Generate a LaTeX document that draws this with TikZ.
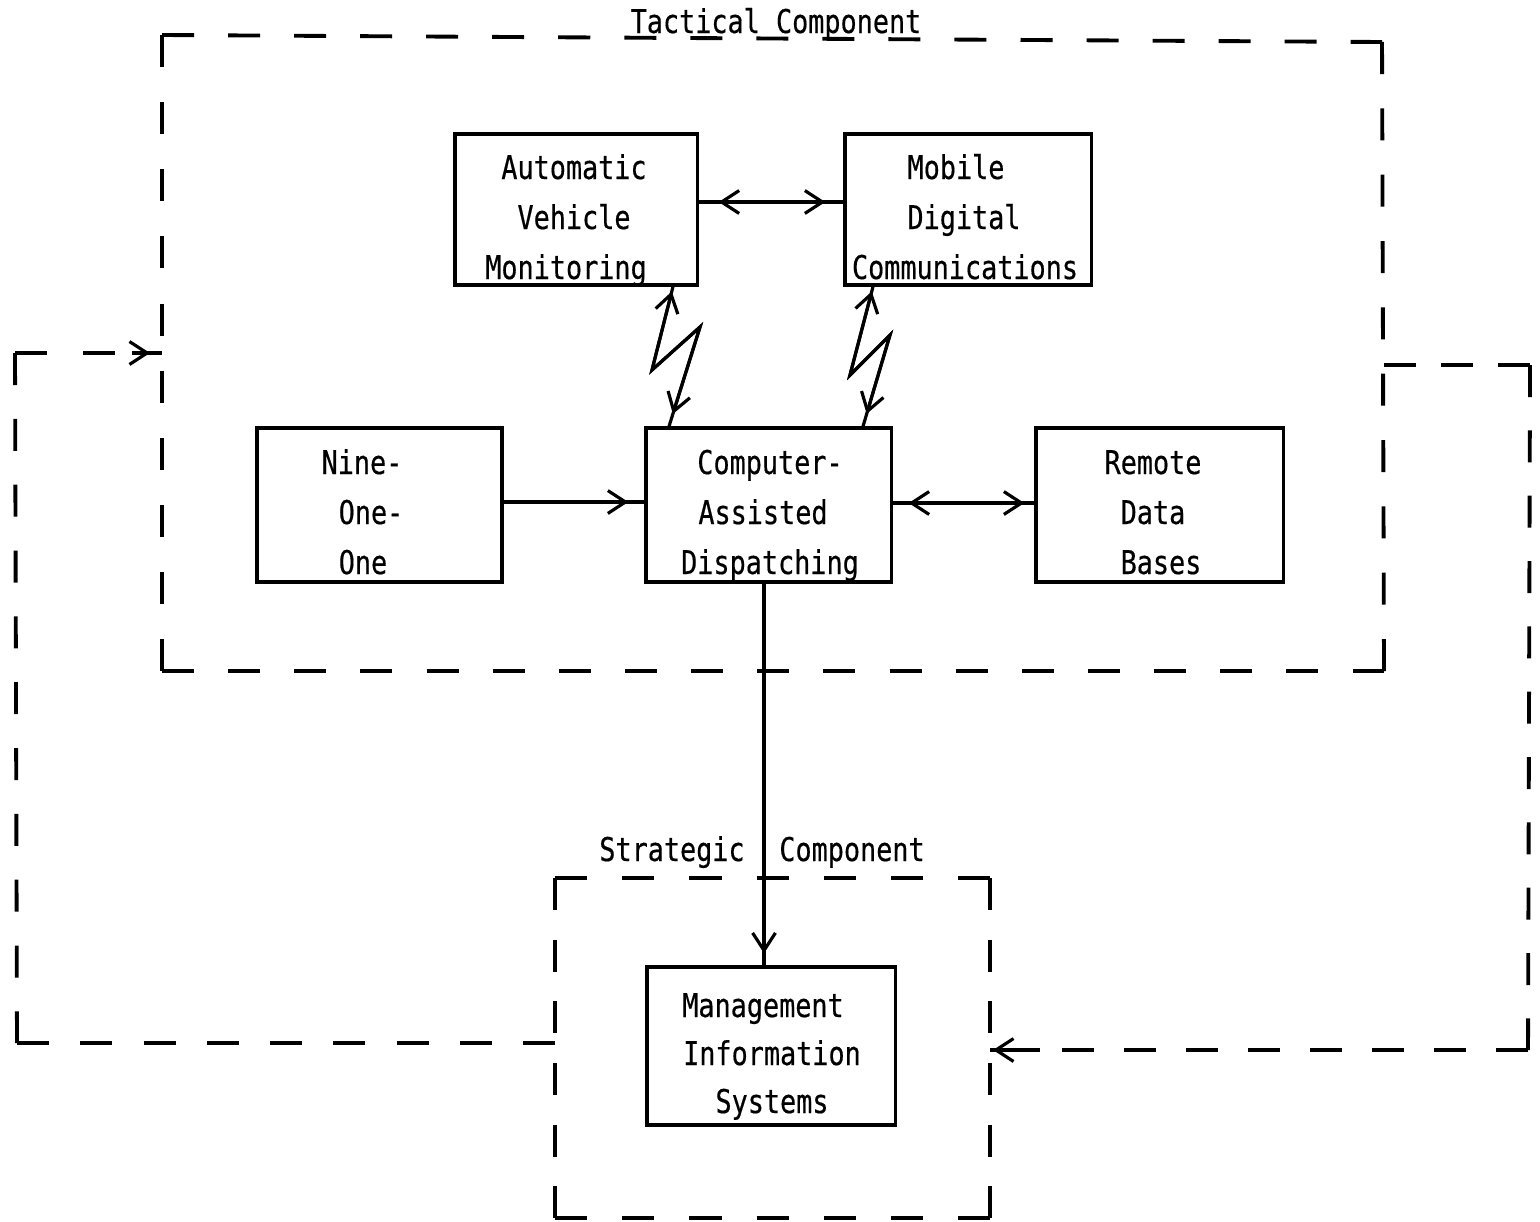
\documentclass[tikz,border=0pt]{standalone}
\usepackage{fontspec}
\newfontfamily\twfont[FakeStretch=0.82,FakeBold=0.4]{DejaVu Sans Mono}
\usetikzlibrary{arrows.meta}
\begin{document}
\begin{tikzpicture}[x=0.01cm,y=-0.01cm,
  frame/.style={line width=1.1pt, dash pattern=on 0.32cm off #1cm},
  frame/.default=0.34,
  box/.style={draw, line width=0.9pt, inner sep=0pt, rectangle},
  txt/.style={font=\twfont\fontsize{9.3}{11}\selectfont, anchor=base, inner sep=0pt},
  wire/.style={line width=0.9pt},
  barb/.tip={Straight Barb[length=5pt,width=6.5pt]},
  tip/.style={line width=0.9pt, -barb},
  tips/.style={line width=0.9pt, barb-barb},
]
\fill[white] (0,0) rectangle (1540,1221);
\useasboundingbox (0,0) rectangle (1540,1221);

% ---- solid boxes ----
\node[box, minimum width=2.42cm, minimum height=1.51cm] (avm)  at (576,209.5) {};
\node[box, minimum width=2.46cm, minimum height=1.51cm] (mdc)  at (968,209.5) {};
\node[box, minimum width=2.45cm, minimum height=1.54cm] (nine) at (379.5,505) {};
\node[box, minimum width=2.45cm, minimum height=1.54cm] (cad)  at (768.5,505) {};
\node[box, minimum width=2.47cm, minimum height=1.54cm] (rdb)  at (1159.5,505) {};
\node[box, minimum width=2.48cm, minimum height=1.58cm] (mis)  at (771,1046) {};

% ---- box labels ----
\node[txt] (avm1) at (574,179) {Automatic};
\node[txt] (avm2) at (574,229) {Vehicle};
\node[txt] (avm3) at (566,279) {Monitoring};
\node[txt] (mdc1) at (956,179) {Mobile};
\node[txt] (mdc2) at (964,229) {Digital};
\node[txt] (mdc3) at (965,279) {Communications};
\node[txt] (nin1) at (362,474) {Nine-};
\node[txt] (nin2) at (371,524) {One-};
\node[txt] (nin3) at (363,574) {One};
\node[txt] (cad1) at (770,474) {Computer-};
\node[txt] (cad2) at (763,524) {Assisted};
\node[txt] (cad3) at (770,574) {Dispatching};
\node[txt] (rdb1) at (1153,474) {Remote};
\node[txt] (rdb2) at (1153,524) {Data};
\node[txt] (rdb3) at (1161,574) {Bases};
\node[txt] (mis1) at (763,1017) {Management};
\node[txt] (mis2) at (772,1065) {Information};
\node[txt] (mis3) at (772,1113) {Systems};

% ---- component frames ----
\node[txt] (tac)  at (776,33)  {Tactical Component};
\node[txt] (str1) at (672,861) {Strategic};
\node[txt] (str2) at (852,861) {Component};

\coordinate (ttl) at (162,35);
\coordinate (ttr) at (1382,42);
\coordinate (tbl) at (162,671);
\coordinate (tbr) at (1384,671);
\draw[frame=0.34]  (ttl) -- (ttr);
\draw[frame=0.351] (ttl) -- (tbl);
\draw[frame=0.341] (tbl) -- (tbr);
\draw[frame=0.343] (ttr) -- (tbr);

\coordinate (stl) at (555,878);
\coordinate (str) at (990,878);
\coordinate (sbl) at (555,1218);
\coordinate (sbr) at (990,1218);
\draw[frame=0.352] (stl) -- (str);
\draw[frame=0.296] (stl) -- (sbl);
\draw[frame=0.352] (sbl) -- (sbr);
\draw[frame=0.296] (str) -- (sbr);

% ---- feedback loops ----
\coordinate (la) at (15,353);
\coordinate (lb) at (17,1043);
\coordinate (lc) at (555,1043);
\coordinate (ld) at (132,353);
\coordinate (lt) at (162,353);
\draw[frame=0.338]  (la) -- (lb);
\draw[frame=0.3125] (lb) -- (lc);
\draw[frame=0.36]   (la) -- (115,353);
\draw[wire] (ld) -- (lt);
\draw[tip, shorten >=0.12cm] (ld) -- (lt);

\coordinate (ra) at (1384,365);
\coordinate (rb) at (1530,365);
\coordinate (rc) at (1528,1050);
\coordinate (rd) at (1040,1050);
\coordinate (rt) at (990,1050);
\draw[frame=0.25]  (ra) -- (rb);
\draw[frame=0.333] (rb) -- (rc);
\draw[frame=0.30]  (rc) -- (1062,1050);
\draw[wire] (rd) -- (rt);
\draw[tip, shorten >=0.03cm] (rd) -- (rt);

% ---- connectors ----
\coordinate (yam) at (0,202);
\draw[wire] (avm.east |- yam) -- (mdc.west |- yam);
\draw[tips, shorten <=0.2cm, shorten >=0.18cm] (avm.east |- yam) -- (mdc.west |- yam);

\coordinate (ync) at (0,502);
\draw[wire] (nine.east |- ync) -- (cad.west |- ync);
\draw[tip, shorten >=0.16cm] (nine.east |- ync) -- (cad.west |- ync);

\coordinate (ycr) at (0,503);
\draw[wire] (cad.east |- ycr) -- (rdb.west |- ycr);
\draw[tips, shorten <=0.16cm, shorten >=0.1cm] (cad.east |- ycr) -- (rdb.west |- ycr);

\coordinate (xcm) at (764,0);
\draw[wire] (cad.south -| xcm) -- (mis.north -| xcm);
\draw[tip, shorten >=0.12cm] (cad.south -| xcm) -- (mis.north -| xcm);

% ---- radio links (lightning bolts) ----
\coordinate (k1t) at (673,0);
\coordinate (k1a) at (652,370);
\coordinate (k1b) at (700,327);
\coordinate (k1u) at (669,0);
\draw[wire] (avm.south -| k1t) -- (k1a) -- (k1b) -- (cad.north -| k1u);
\draw[tips, shorten <=0.05cm, shorten >=0.13cm] (avm.south -| k1t) -- (k1a) -- (k1b) -- (cad.north -| k1u);

\coordinate (k2t) at (873,0);
\coordinate (k2a) at (850,375);
\coordinate (k2b) at (890,335);
\coordinate (k2u) at (863,0);
\draw[wire] (mdc.south -| k2t) -- (k2a) -- (k2b) -- (cad.north -| k2u);
\draw[tips, shorten <=0.05cm, shorten >=0.13cm] (mdc.south -| k2t) -- (k2a) -- (k2b) -- (cad.north -| k2u);
\end{tikzpicture}
\end{document}
